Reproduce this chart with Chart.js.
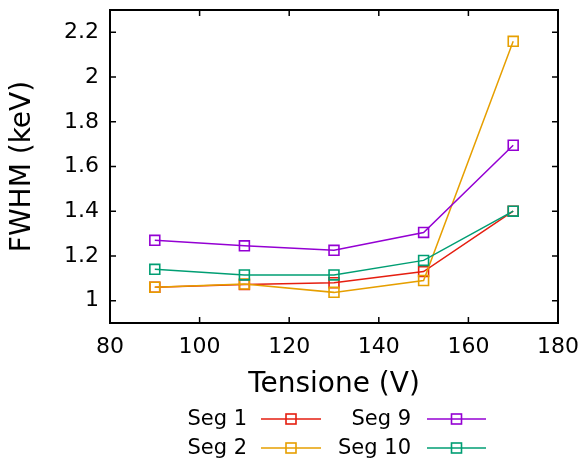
<!DOCTYPE html>
<html>
<head>
<meta charset="utf-8">
<title>FWHM vs Tensione</title>
<script src="https://cdn.jsdelivr.net/npm/chart.js@4.4.0/dist/chart.umd.min.js"></script>
<style>
  html, body { margin: 0; padding: 0; background: #fff; }
  #wrap { width: 585px; height: 468px; }
</style>
</head>
<body>
<div id="wrap"><canvas id="fwhm"></canvas></div>
<script>
// bias voltage (V) and measured FWHM (keV) per segment
const tensione = [90, 110, 130, 150, 170];
const seg1 = [1.06, 1.072, 1.08, 1.13, 1.40];
const seg2 = [1.06, 1.074, 1.037, 1.09, 2.16];
const seg9 = [1.27, 1.245, 1.225, 1.305, 1.695];
const seg10 = [1.14, 1.115, 1.115, 1.18, 1.40];

const seriesNames = ['Seg 1', 'Seg 2', 'Seg 9', 'Seg 10'];
const seriesColors = ['#e51e10', '#e69f00', '#9400d3', '#009e73'];

const xTicks = [80, 100, 120, 140, 160, 180];
const yTicks = [1, 1.2, 1.4, 1.6, 1.8, 2, 2.2];

const FONT = 'DejaVu Sans';

const seriesValues = [seg1, seg2, seg9, seg10];
const datasets = seriesValues.map((vals, i) => ({
  label: seriesNames[i],
  data: tensione.map((t, j) => ({ x: t, y: vals[j] })),
  borderColor: seriesColors[i],
  borderWidth: 1.5,
  pointStyle: 'rect',
  pointRadius: 7,
  pointBorderWidth: 1.6,
  pointBackgroundColor: 'rgba(0,0,0,0)',
  pointBorderColor: seriesColors[i],
  tension: 0,
  fill: false,
  order: seriesValues.length - i   // later series on top, gnuplot style
}));

// gnuplot-like frame: box border with inward ticks on all four sides
const frame = {
  id: 'frame',
  beforeDatasetsDraw(chart) {
    const { ctx, chartArea: a, scales: { x, y } } = chart;
    const len = 6;
    ctx.save();
    ctx.strokeStyle = '#000';
    ctx.lineWidth = 1.5;
    ctx.beginPath();
    xTicks.forEach(v => {
      const px = x.getPixelForValue(v);
      ctx.moveTo(px, a.bottom); ctx.lineTo(px, a.bottom - len);
      ctx.moveTo(px, a.top); ctx.lineTo(px, a.top + len);
    });
    yTicks.forEach(v => {
      const py = y.getPixelForValue(v);
      ctx.moveTo(a.left, py); ctx.lineTo(a.left + len, py);
      ctx.moveTo(a.right, py); ctx.lineTo(a.right - len, py);
    });
    ctx.stroke();
    ctx.lineWidth = 2;
    ctx.strokeRect(a.left, a.top, a.right - a.left, a.bottom - a.top);
    ctx.restore();
  }
};

// two-column key under the x title: label right-aligned, then line sample with marker
const key = {
  id: 'key',
  afterDraw(chart) {
    const { ctx } = chart;
    const cols = [{ textRight: 247, lineFrom: 261, lineTo: 321 },
                  { textRight: 411, lineFrom: 427, lineTo: 486 }];
    const rows = [419, 448];
    ctx.save();
    ctx.font = '21px "' + FONT + '"';
    ctx.textAlign = 'right';
    ctx.textBaseline = 'middle';
    chart.data.datasets.forEach((ds, i) => {
      const c = cols[Math.floor(i / 2)];
      const yy = rows[i % 2];
      ctx.fillStyle = '#000';
      ctx.fillText(ds.label, c.textRight, yy + 1);
      ctx.strokeStyle = ds.borderColor;
      ctx.lineWidth = 1.5;
      ctx.beginPath();
      ctx.moveTo(c.lineFrom, yy);
      ctx.lineTo(c.lineTo, yy);
      ctx.stroke();
      const mx = (c.lineFrom + c.lineTo) / 2;
      ctx.lineWidth = 1.6;
      ctx.strokeRect(mx - 5, yy - 5, 10, 10);
    });
    ctx.restore();
  }
};

new Chart(document.getElementById('fwhm'), {
  type: 'line',
  data: { datasets },
  options: {
    responsive: true,
    maintainAspectRatio: false,
    animation: false,
    layout: { padding: { top: 10, right: 27, left: 0, bottom: 0 } },
    plugins: {
      legend: { display: false },
      tooltip: { enabled: false }
    },
    scales: {
      x: {
        type: 'linear',
        min: 80,
        max: 180,
        afterBuildTicks: s => { s.ticks = xTicks.map(v => ({ value: v })); },
        afterFit: s => { s.height = 145; s.paddingLeft = 0; s.paddingRight = 0; },
        grid: { display: false, drawTicks: false },
        border: { display: false },
        ticks: {
          padding: 11,
          color: '#000',
          font: { family: FONT, size: 22 },
          maxRotation: 0
        },
        title: {
          display: true,
          text: 'Tensione (V)',
          color: '#000',
          font: { family: FONT, size: 28 },
          padding: { top: 0, bottom: 66 }
        }
      },
      y: {
        type: 'linear',
        min: 0.9,
        max: 2.3,
        afterBuildTicks: s => { s.ticks = yTicks.map(v => ({ value: v })); },
        afterFit: s => { s.width = 110; s.paddingTop = 0; s.paddingBottom = 0; },
        grid: { display: false, drawTicks: false },
        border: { display: false },
        ticks: {
          padding: 11,
          color: '#000',
          font: { family: FONT, size: 22 },
          callback: v => String(Number(v.toFixed(1)))
        },
        title: {
          display: true,
          text: 'FWHM (keV)',
          color: '#000',
          font: { family: FONT, size: 28 },
          padding: { top: 6, bottom: 0 }
        }
      }
    }
  },
  plugins: [frame, key]
});
</script>
</body>
</html>
